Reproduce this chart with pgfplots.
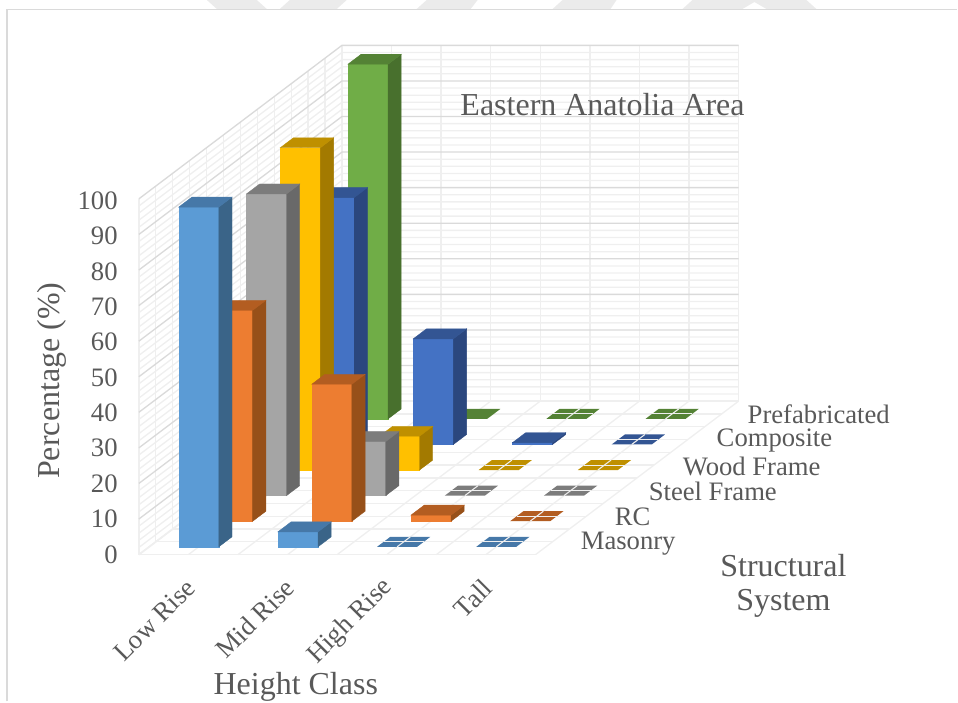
\documentclass[border=0pt]{standalone}
\usepackage{fontspec}
\setmainfont{Liberation Serif}
\usepackage{pgfplots}
\pgfplotsset{compat=1.18}
\definecolor{tx}{HTML}{595959}
\definecolor{gmaj}{HTML}{DADADA}
\definecolor{gmin}{HTML}{EFEFEF}
\definecolor{wm}{HTML}{EBEBEB}
\definecolor{mF}{HTML}{5B9BD5}\definecolor{mS}{HTML}{3A6488}\definecolor{mT}{HTML}{4678A8}
\definecolor{rF}{HTML}{ED7D31}\definecolor{rS}{HTML}{975019}\definecolor{rT}{HTML}{B35D21}
\definecolor{sF}{HTML}{A5A5A5}\definecolor{sS}{HTML}{696969}\definecolor{sT}{HTML}{7C7C7C}
\definecolor{wF}{HTML}{FFC000}\definecolor{wS}{HTML}{A37A00}\definecolor{wT}{HTML}{BF9000}
\definecolor{cF}{HTML}{4472C4}\definecolor{cS}{HTML}{2B477E}\definecolor{cT}{HTML}{335593}
\definecolor{pF}{HTML}{70AD47}\definecolor{pS}{HTML}{48702D}\definecolor{pT}{HTML}{548235}
% one bar: column, row, value, colour prefix
\newcommand{\dbar}[4]{%
  \pgfmathsetmacro\xa{#1+0.298}\pgfmathsetmacro\xb{#1+0.702}%
  \pgfmathsetmacro\ya{#2+0.305}\pgfmathsetmacro\yb{#2+0.695}%
  \edef\tmp{\noexpand\addplot3[fill=#4F,draw=#4F,line width=0.3pt,forget plot] coordinates {(\xa,\ya,0)(\xb,\ya,0)(\xb,\ya,#3)(\xa,\ya,#3)} --cycle;
  \noexpand\addplot3[fill=#4S,draw=#4S,line width=0.3pt,forget plot] coordinates {(\xb,\ya,0)(\xb,\yb,0)(\xb,\yb,#3)(\xb,\ya,#3)} --cycle;
  \noexpand\addplot3[fill=#4T,draw=#4T,line width=0.3pt,forget plot] coordinates {(\xa,\ya,#3)(\xb,\ya,#3)(\xb,\yb,#3)(\xa,\yb,#3)} --cycle;}\tmp}
% value 0: only a top, crossed by the floor grid
\newcommand{\zbar}[3]{%
  \pgfmathsetmacro\xa{#1+0.298}\pgfmathsetmacro\xb{#1+0.702}\pgfmathsetmacro\xc{#1+0.5}%
  \pgfmathsetmacro\ya{#2+0.305}\pgfmathsetmacro\yb{#2+0.695}\pgfmathsetmacro\yc{#2+0.5}%
  \edef\tmp{\noexpand\addplot3[fill=#3T,draw=none,forget plot] coordinates {(\xa,\ya,0)(\xb,\ya,0)(\xb,\yb,0)(\xa,\yb,0)} --cycle;
  \noexpand\addplot3[draw=gmin,line width=0.8pt,forget plot] coordinates {(\xa,\yc,0)(\xb,\yc,0)};
  \noexpand\addplot3[draw=gmin,line width=0.8pt,forget plot] coordinates {(\xc,\ya,0)(\xc,\yb,0)};}\tmp}
\begin{document}
\begin{tikzpicture}
\begin{scope}[x=0.75pt,y=-0.75pt]
\path (0,0) rectangle (958,702);
\fill[wm] (207,0)--(217,9)--(267,9)--(257,0)--cycle;
\fill[wm] (280,9)--(290,0)--(347,0)--(337,9)--cycle;
\fill[wm] (417,9)--(427,0)--(478,0)--(471,9)--cycle;
\fill[wm] (553,9)--(563,0)--(617,0)--(611,9)--cycle;
\fill[wm] (683,9)--(693,0)--(807,0)--(817,9)--(767,9)--(755,2)--(743,9)--cycle;
\draw[gmaj,line width=1.1pt] (7,702)--(7,9.5)--(958,9.5);
\end{scope}
\begin{axis}[
  at={(104.25pt,-416.25pt)},anchor=origin,
  x={(74.44pt,0pt)},y={(25.4pt,19.2pt)},z={(0pt,2.67pt)},
  xmin=0,xmax=4,ymin=0,ymax=6,zmin=0,zmax=100,
  hide axis,clip=false]
% floor grid
\pgfplotsinvokeforeach{0,0.5,1,1.5,2,2.5,3,3.5,4}{\addplot3[gmin,line width=1pt,forget plot] coordinates {(#1,0,0)(#1,6,0)};}
\pgfplotsinvokeforeach{0,0.5,1,1.5,2,2.5,3,3.5,4,4.5,5,5.5,6}{\addplot3[gmin,line width=1pt,forget plot] coordinates {(0,#1,0)(4,#1,0)};}
% walls: verticals
\pgfplotsinvokeforeach{0,0.5,1,1.5,2,2.5,3,3.5,4}{\addplot3[gmin,line width=1pt,forget plot] coordinates {(#1,6,0)(#1,6,100)};}
\pgfplotsinvokeforeach{0,0.5,1,1.5,2,2.5,3,3.5,4,4.5,5,5.5,6}{\addplot3[gmin,line width=1pt,forget plot] coordinates {(0,#1,0)(0,#1,100)};}
% walls: minor horizontals
\pgfplotsinvokeforeach{2,4,6,8,12,14,16,18,22,24,26,28,32,34,36,38,42,44,46,48,52,54,56,58,62,64,66,68,72,74,76,78,82,84,86,88,92,94,96,98}{%
  \addplot3[gmin,line width=1pt,forget plot] coordinates {(0,0,#1)(0,6,#1)(4,6,#1)};}
% walls: major horizontals
\pgfplotsinvokeforeach{10,20,30,40,50,60,70,80,90,100}{%
  \addplot3[gmaj,line width=1pt,forget plot] coordinates {(0,0,#1)(0,6,#1)(4,6,#1)};}
\addplot3[gmin,line width=1.3pt,forget plot] coordinates {(0,0,0)(0,6,0)(4,6,0)};
% rows back to front: Prefabricated
\dbar{0}{5}{99.7}{p}
\addplot3[fill=pT,draw=none,forget plot] coordinates {(1.298,5.305,0)(1.702,5.305,0)(1.702,5.695,0)(1.298,5.695,0)} --cycle;
\zbar{2}{5}{p}
\zbar{3}{5}{p}
% Composite
\dbar{0}{4}{69.4}{c}
\dbar{1}{4}{29.7}{c}
\dbar{2}{4}{0.5}{c}
\zbar{3}{4}{c}
% Wood Frame
\dbar{0}{3}{90.6}{w}
\dbar{1}{3}{9.5}{w}
\zbar{2}{3}{w}
\zbar{3}{3}{w}
% Steel Frame
\dbar{0}{2}{84.8}{s}
\dbar{1}{2}{15.2}{s}
\zbar{2}{2}{s}
\zbar{3}{2}{s}
% RC
\dbar{0}{1}{59.3}{r}
\dbar{1}{1}{38.5}{r}
\dbar{2}{1}{1.7}{r}
\zbar{3}{1}{r}
% Masonry
\dbar{0}{0}{95.5}{m}
\dbar{1}{0}{4.2}{m}
\zbar{2}{0}{m}
\zbar{3}{0}{m}
\end{axis}
\begin{scope}[x=0.75pt,y=-0.75pt,every node/.style={text=tx,inner sep=0pt,font=\fontsize{20}{24}\selectfont}]
\node[anchor=east] at (118,200.5) {100};
\node[anchor=east] at (118,235.9) {90};
\node[anchor=east] at (118,271.6) {80};
\node[anchor=east] at (118,307.0) {70};
\node[anchor=east] at (118,342.4) {60};
\node[anchor=east] at (118,377.8) {50};
\node[anchor=east] at (118,413.2) {40};
\node[anchor=east] at (118,448.6) {30};
\node[anchor=east] at (118,484.0) {20};
\node[anchor=east] at (118,519.4) {10};
\node[anchor=east] at (118,555.0) {0};
\node[anchor=west] at (748,415) {Prefabricated};
\node[anchor=west] at (717,441) {Composite};
\node[anchor=west] at (683,467) {Wood Frame};
\node[anchor=west] at (649,492) {Steel Frame};
\node[anchor=west] at (615,517) {RC};
\node[anchor=west] at (581,544) {Masonry};
\node[anchor=east,rotate=45] at (191,584) {Low Rise};
\node[anchor=east,rotate=45] at (290,584) {Mid Rise};
\node[anchor=east,rotate=45] at (389,584) {High Rise};
\node[anchor=east,rotate=45] at (488,584) {Tall};
\node[font=\fontsize{24}{28}\selectfont] at (603,105) {Eastern Anatolia Area};
\node[font=\fontsize{24}{28}\selectfont,rotate=90] at (52,381) {Percentage (\%)};
\node[font=\fontsize{24}{28}\selectfont] at (784,566) {Structural};
\node[font=\fontsize{24}{28}\selectfont] at (784,604) {System};
\node[font=\fontsize{24}{28}\selectfont] at (296,687) {Height Class};
\end{scope}
\end{tikzpicture}
\end{document}
